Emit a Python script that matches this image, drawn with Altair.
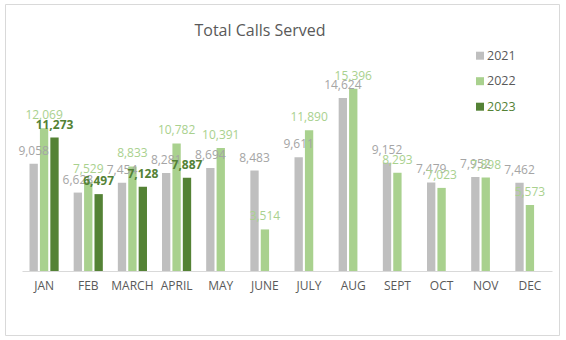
import altair as alt
import pandas as pd

months = ["JAN", "FEB", "MARCH", "APRIL", "MAY", "JUNE", "JULY", "AUG", "SEPT", "OCT", "NOV", "DEC"]
years = ["2021", "2022", "2023"]
v2021 = [9058, 6628, 7454, 8281, 8694, 8483, 9611, 14624, 9152, 7479, 7952, 7462]
v2022 = [12069, 7529, 8833, 10782, 10391, 3514, 11890, 15396, 8293, 7023, 7898, 5573]
v2023 = [11273, 6497, 7128, 7887]

rows = []
for yr, vals in zip(years, [v2021, v2022, v2023]):
    for m, v in zip(months, vals):
        rows.append({"month": m, "year": yr, "calls": v})
df = pd.DataFrame(rows)
legend_df = pd.DataFrame({"year": years})

bar_colors = ["#BFBFBF", "#A9D18E", "#548235"]
label_colors = ["#A5A5A5", "#A9D18E", "#548235"]
legend_text_colors = ["#595959", "#595959", "#548235"]
FONT = "Open Sans"

base = alt.Chart(df).encode(
    x=alt.X("month:N", sort=months, scale=alt.Scale(paddingInner=0.34, paddingOuter=0.17),
            axis=alt.Axis(title=None, labelAngle=0, ticks=False, labelPadding=9,
                          labelColor="#595959", labelFontSize=12, labelFont=FONT,
                          domainColor="#D9D9D9", grid=False)),
    xOffset=alt.XOffset("year:N", sort=years, scale=alt.Scale(paddingInner=0.2)),
    y=alt.Y("calls:Q", scale=alt.Scale(domain=[0, 18000]), axis=None),
)

bars = base.mark_bar().encode(
    color=alt.Color("year:N", sort=years, scale=alt.Scale(domain=years, range=bar_colors), legend=None),
)

label_color = alt.Color("year:N", scale=alt.Scale(domain=years, range=label_colors), legend=None)

labels_light = base.mark_text(baseline="alphabetic", dy=-9, fontSize=12, font=FONT).encode(
    text=alt.Text("calls:Q", format=","),
    color=label_color,
).transform_filter(alt.datum.year != "2023")

labels_bold = base.mark_text(baseline="alphabetic", dy=-9, fontSize=12, font=FONT,
                             fontWeight="bold").encode(
    text=alt.Text("calls:Q", format=","),
    color=label_color,
).transform_filter(alt.datum.year == "2023")

# legend built from the year list
legend_y = alt.Y("year:N", sort=years, axis=None,
                 scale=alt.Scale(type="point", domain=years, range=[-2.3, 48.7], padding=0))
legend_sym = alt.Chart(legend_df).mark_square(size=64, opacity=1).encode(
    x=alt.value(458), y=legend_y,
    color=alt.Color("year:N", scale=alt.Scale(domain=years, range=bar_colors), legend=None),
)
legend_txt = alt.Chart(legend_df).mark_text(align="left", baseline="middle", fontSize=12.5,
                                            font=FONT).encode(
    x=alt.value(465), y=legend_y, text="year:N",
    color=alt.Color("year:N", scale=alt.Scale(domain=years, range=legend_text_colors), legend=None),
)

frame = alt.Chart(pd.DataFrame({"a": [0]})).mark_rect(fill=None, stroke="#D9D9D9", strokeWidth=1).encode(
    x=alt.value(-16.5), x2=alt.value(537.5), y=alt.value(-53.5), y2=alt.value(277.5)
)

plot = alt.layer(frame, bars, labels_light, labels_bold).resolve_scale(color="independent")
legend = alt.layer(legend_sym, legend_txt).resolve_scale(color="independent")

chart = alt.layer(plot, legend).resolve_scale(color="independent", y="independent").properties(
    width=530, height=213,
    title=alt.TitleParams("Total Calls Served", anchor="middle", frame="group", dx=-27, fontSize=16,
                          font=FONT, fontWeight="normal", color="#595959", offset=-47.5,
                          baseline="alphabetic"),
    autosize=alt.AutoSizeParams(type="none"),
    padding={"left": 22, "top": 58, "right": 14, "bottom": 69},
    background="white",
).configure_view(strokeWidth=0, stroke="transparent")

chart.save("out.html", embed_options={"renderer": "svg", "actions": False})
